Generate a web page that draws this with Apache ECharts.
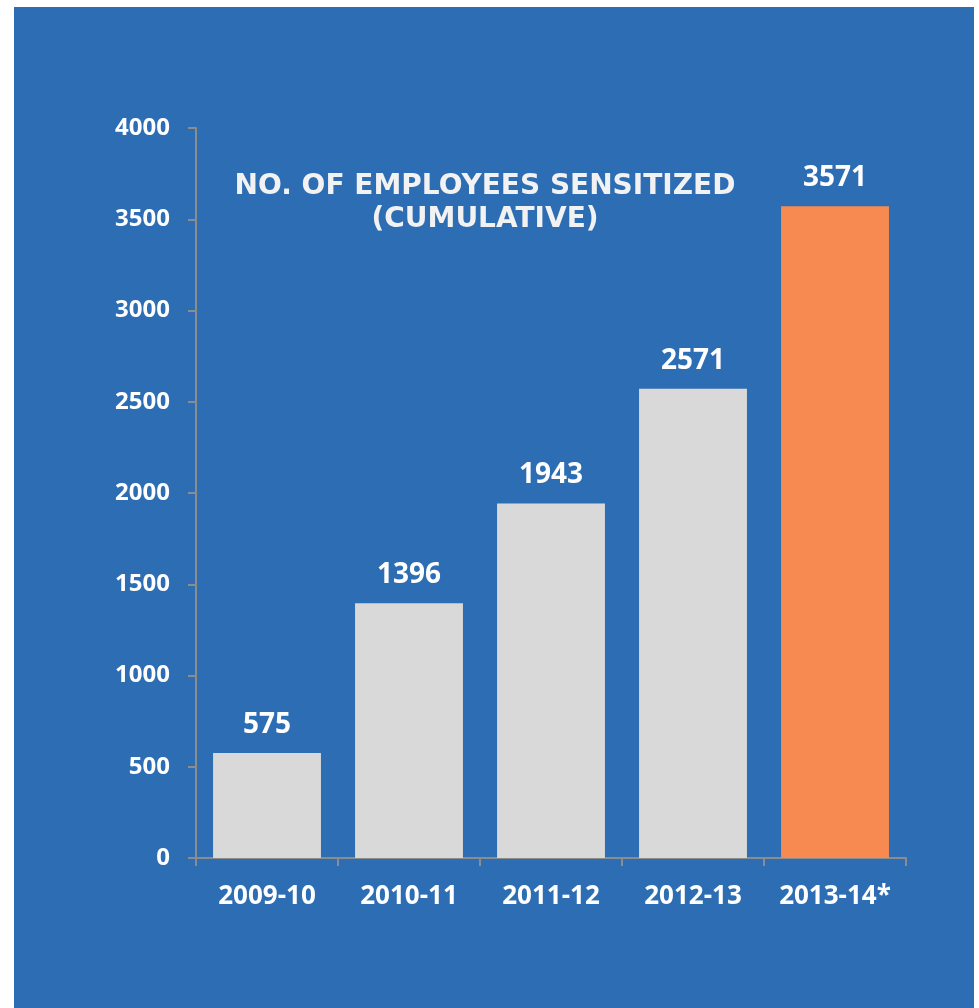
<!DOCTYPE html>
<html>
<head>
<meta charset="utf-8">
<script src="https://cdn.jsdelivr.net/npm/echarts@6/dist/echarts.min.js"></script>
<style>
  html, body { margin: 0; padding: 0; background: #ffffff; }
  #chart { position: absolute; left: 14px; top: 7px; width: 960px; height: 1001px; background: #2D6DB4; }
</style>
</head>
<body>
<div id="chart"></div>
<script>
// Employees sensitized, cumulative by fiscal year
const years = ['2009-10', '2010-11', '2011-12', '2012-13', '2013-14*'];
const employees = [575, 1396, 1943, 2571, 3571];
const barColors = ['#D9D9D9', '#D9D9D9', '#D9D9D9', '#D9D9D9', '#F68A50'];
const titleLines = ['NO. OF EMPLOYEES SENSITIZED', '(CUMULATIVE)'];
const yTicks = ['0', '500', '1000', '1500', '2000', '2500', '3000', '3500', '4000'];

const chart = echarts.init(document.getElementById('chart'), null, { renderer: 'canvas' });

const axisGrey = '#8C8C8C';
const labelFont = '"Open Sans", "Liberation Sans", sans-serif';

chart.setOption({
  backgroundColor: '#2D6DB4',
  animation: false,
  grid: { left: 182, right: 68, top: 121, bottom: 150, containLabel: false },
  graphic: [{
    type: 'text',
    style: {
      x: 471,
      y: 163,
      text: titleLines.join('\n'),
      align: 'center',
      verticalAlign: 'top',
      lineHeight: 33,
      fill: '#F2F2F2',
      fontFamily: 'DejaVu Sans',
      fontWeight: 'bold',
      fontSize: 28
    }
  }],
  xAxis: {
    type: 'category',
    data: years,
    axisLine: { show: true, lineStyle: { color: axisGrey, width: 2 } },
    axisTick: { show: true, length: 8, lineStyle: { color: axisGrey, width: 2 } },
    axisLabel: {
      interval: 0,
      color: '#FFFFFF', fontWeight: 'bold', fontSize: 26,
      fontFamily: labelFont, margin: 26
    },
    splitLine: { show: false }
  },
  yAxis: {
    type: 'value',
    min: 0, max: 4000, interval: 500,
    axisLine: { show: true, lineStyle: { color: axisGrey, width: 2 } },
    axisTick: { show: true, length: 8, lineStyle: { color: axisGrey, width: 2 } },
    axisLabel: {
      color: '#FFFFFF', fontWeight: 'bold', fontSize: 24,
      fontFamily: labelFont, margin: 26,
      formatter: (v, i) => yTicks[i]
    },
    splitLine: { show: false }
  },
  series: [{
    type: 'bar',
    data: employees.map((v, i) => ({ value: v, itemStyle: { color: barColors[i] } })),
    barCategoryGap: '24%',
    label: {
      show: true, position: 'top', distance: 14,
      color: '#FFFFFF', fontWeight: 'bold', fontSize: 28,
      fontFamily: labelFont
    }
  }]
});
</script>
</body>
</html>
